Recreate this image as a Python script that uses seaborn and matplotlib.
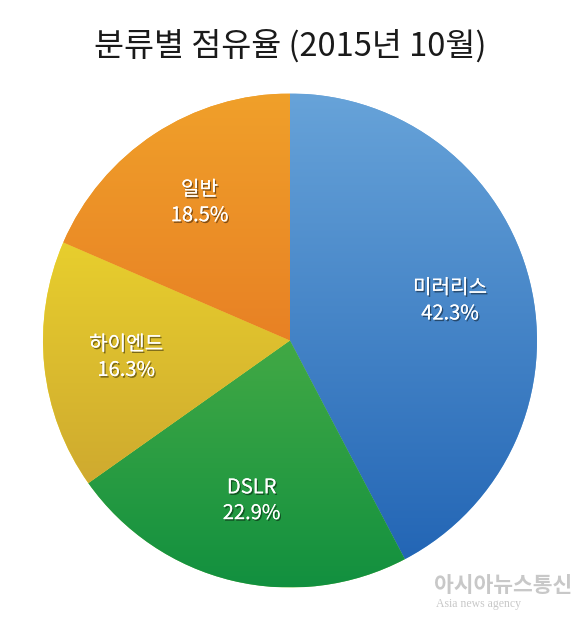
import numpy as np
import seaborn as sns
import matplotlib.pyplot as plt
import matplotlib.patheffects as pe
from matplotlib.colors import LinearSegmentedColormap

sns.set_theme(style="white")
plt.rcParams['font.family'] = ['Noto Sans CJK KR', 'DejaVu Sans']

# data
categories = ['미러리스', 'DSLR', '하이엔드', '일반']
shares = [42.3, 22.9, 16.3, 18.5]
title = '분류별 점유율 (2015년 10월)'

# light (top) -> dark (bottom) gradient colours per slice
grad_colors = [
    ('#67a3d9', '#1f62b3'),
    ('#72c24b', '#12903f'),
    ('#f7e52c', '#c49a30'),
    ('#f0a02a', '#e0621f'),
]

fig = plt.figure(figsize=(5.8, 6.2), dpi=100)
ax = fig.add_axes([43 / 580, 1 - 588 / 620, 494 / 580, 495 / 620])

labels = ['{}\n{}%'.format(c, v) for c, v in zip(categories, shares)]
wedges, texts = ax.pie(shares, labels=labels, startangle=90, counterclock=False,
                       labeldistance=0.667, radius=1.0,
                       colors=[c[0] for c in grad_colors],
                       wedgeprops=dict(linewidth=0))

# vertical gradient inside each wedge
yy = np.linspace(1, 0, 256).reshape(-1, 1)
for w, (c_top, c_bot) in zip(wedges, grad_colors):
    cmap = LinearSegmentedColormap.from_list('g', [c_bot, c_top])
    im = ax.imshow(yy, cmap=cmap, extent=(-1, 1, -1, 1), aspect='auto',
                   origin='upper', zorder=2, interpolation='bilinear')
    im.set_clip_path(w)

for t in texts:
    t.set_ha('center')
    t.set_va('center')
    t.set_color('white')
    t.set_fontsize(14.5)
    t.set_linespacing(1.3)
    t.set_zorder(5)
    t.set_path_effects([pe.withSimplePatchShadow(offset=(1, -1.2),
                                                 shadow_rgbFace='black', alpha=0.45),
                        pe.Normal()])

ax.set_xlim(-1, 1)
ax.set_ylim(-1, 1)
ax.set_aspect('equal')
ax.axis('off')

fig.text(0.5, 1 - 46 / 620, title, ha='center', va='center',
         fontsize=23.5, color='#1a1a1a')

# watermark
fig.text(503 / 580, 1 - 585 / 620, '아시아뉴스통신', ha='center', va='center',
         fontsize=15.5, color='#c8c8c8', fontweight='bold')
fig.text(478 / 580, 1 - 604 / 620, 'Asia news agency', ha='center', va='center',
         fontsize=8.5, color='#c8c8c8', family='Liberation Serif')

fig.savefig('out.png', dpi=100, facecolor='white')
